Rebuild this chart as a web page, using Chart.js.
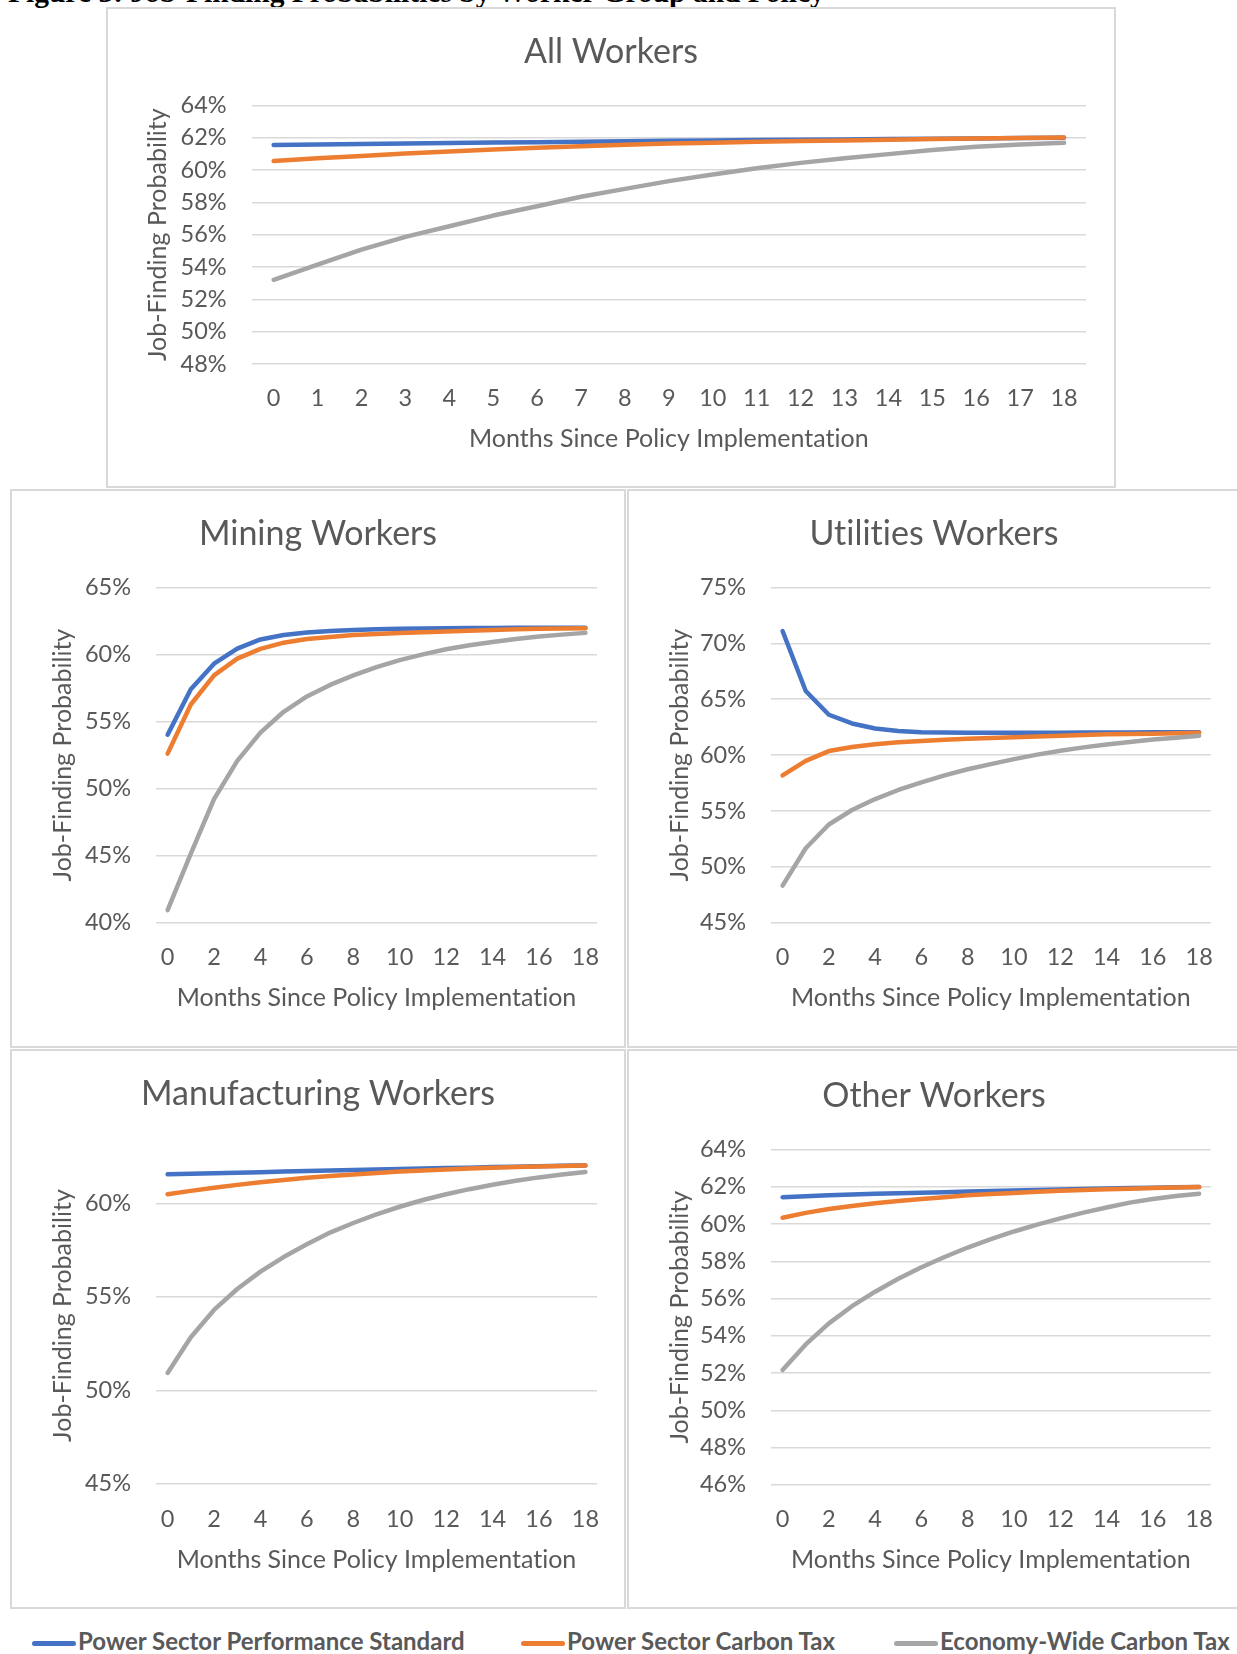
<!DOCTYPE html>
<html>
<head>
<meta charset="utf-8">
<script src="https://cdn.jsdelivr.net/npm/chart.js@4.4.1/dist/chart.umd.min.js"></script>
<style>
  html, body { margin: 0; padding: 0; background: #fff; }
  body { position: relative; width: 1237px; height: 1654px; overflow: hidden; font-family: Lato, "Open Sans", sans-serif; }
  .box { position: absolute; border: 2px solid #D9D9D9; box-sizing: border-box; }
  canvas { position: absolute; }
  #fig { position: absolute; left: 8px; top: -23px; font: bold 29.5px/30px "Liberation Serif", "Times New Roman", serif; color: #000; white-space: nowrap; }
  .lg { position: absolute; top: 1626px; height: 30px; white-space: nowrap; font: bold 24px/30px Lato, sans-serif; color: #595959; }
  .lg i { position: absolute; left: 0; top: 15px; width: 44px; height: 5px; border-radius: 2.5px; }
  .lg span { position: absolute; left: 46px; top: 0; }
</style>
</head>
<body>
<div id="fig">Figure 3: Job-Finding Probabilities by Worker Group and Policy</div>

<div class="box" style="left:106px;top:7px;width:1010px;height:481px"></div>
<div class="box" style="left:10px;top:489px;width:616px;height:559px"></div>
<div class="box" style="left:627px;top:489px;width:614px;height:559px"></div>
<div class="box" style="left:10px;top:1049px;width:616px;height:560px"></div>
<div class="box" style="left:627px;top:1049px;width:614px;height:560px"></div>

<canvas id="cAll"></canvas>
<canvas id="cMining"></canvas>
<canvas id="cUtilities"></canvas>
<canvas id="cManufacturing"></canvas>
<canvas id="cOther"></canvas>

<div class="lg" style="left:32px"><i style="background:#4472C4"></i><span id="lg0"></span></div>
<div class="lg" style="left:521px"><i style="background:#ED7D31"></i><span id="lg1"></span></div>
<div class="lg" style="left:894px"><i style="background:#A5A5A5"></i><span id="lg2"></span></div>

<script>
// Months since the policy takes effect
const months = ['0','1','2','3','4','5','6','7','8','9','10','11','12','13','14','15','16','17','18'];

// Policy names
const policies = ['Power Sector Performance Standard', 'Power Sector Carbon Tax', 'Economy-Wide Carbon Tax'];

// Job-finding probability (%) — all workers
const allPSPS = [61.55, 61.58, 61.61, 61.64, 61.67, 61.70, 61.72, 61.75, 61.78, 61.80, 61.83, 61.85, 61.87, 61.89, 61.91, 61.93, 61.95, 61.97, 62.00];
const allPSCT = [60.55, 60.72, 60.87, 61.02, 61.15, 61.26, 61.37, 61.47, 61.56, 61.63, 61.69, 61.74, 61.79, 61.83, 61.87, 61.91, 61.95, 61.98, 62.01];
const allEWCT = [53.21, 54.14, 55.07, 55.86, 56.52, 57.18, 57.76, 58.34, 58.83, 59.31, 59.72, 60.11, 60.44, 60.73, 60.98, 61.23, 61.44, 61.58, 61.68];

// Mining workers
const minPSPS = [54.02, 57.41, 59.31, 60.44, 61.12, 61.45, 61.64, 61.75, 61.83, 61.88, 61.91, 61.94, 61.96, 61.97, 61.98, 61.99, 62.00, 62.00, 62.00];
const minPSCT = [52.61, 56.27, 58.44, 59.69, 60.42, 60.88, 61.15, 61.31, 61.45, 61.53, 61.61, 61.66, 61.72, 61.77, 61.83, 61.88, 61.91, 61.94, 61.96];
const minEWCT = [40.95, 45.15, 49.22, 52.07, 54.18, 55.73, 56.87, 57.73, 58.44, 59.06, 59.58, 60.01, 60.39, 60.69, 60.93, 61.15, 61.34, 61.48, 61.61];

// Utilities workers
const utlPSPS = [71.10, 65.73, 63.61, 62.83, 62.38, 62.15, 62.05, 62.02, 61.99, 61.99, 62.00, 62.00, 62.01, 62.02, 62.02, 62.03, 62.04, 62.04, 62.05];
const utlPSCT = [58.18, 59.48, 60.36, 60.72, 60.98, 61.14, 61.27, 61.37, 61.47, 61.53, 61.60, 61.66, 61.73, 61.79, 61.86, 61.89, 61.92, 61.95, 61.99];
const utlEWCT = [48.32, 51.67, 53.79, 55.09, 56.07, 56.88, 57.56, 58.18, 58.73, 59.19, 59.64, 60.04, 60.39, 60.69, 60.95, 61.17, 61.40, 61.56, 61.73];

// Manufacturing workers
const mfgPSPS = [61.56, 61.58, 61.61, 61.64, 61.67, 61.70, 61.73, 61.76, 61.78, 61.81, 61.84, 61.86, 61.89, 61.91, 61.94, 61.96, 61.99, 62.01, 62.03];
const mfgPSCT = [60.49, 60.67, 60.84, 60.99, 61.13, 61.25, 61.37, 61.46, 61.54, 61.62, 61.70, 61.76, 61.81, 61.86, 61.91, 61.94, 61.97, 62.00, 62.03];
const mfgEWCT = [50.93, 52.84, 54.30, 55.42, 56.35, 57.13, 57.81, 58.44, 58.95, 59.41, 59.82, 60.18, 60.49, 60.76, 61.00, 61.21, 61.39, 61.54, 61.68];

// Other workers
const othPSPS = [61.44, 61.49, 61.54, 61.58, 61.62, 61.65, 61.68, 61.71, 61.74, 61.77, 61.80, 61.83, 61.86, 61.88, 61.91, 61.93, 61.95, 61.97, 61.99];
const othPSCT = [60.34, 60.60, 60.81, 60.97, 61.11, 61.23, 61.34, 61.44, 61.54, 61.61, 61.67, 61.73, 61.79, 61.83, 61.87, 61.90, 61.93, 61.96, 61.99];
const othEWCT = [52.17, 53.54, 54.67, 55.59, 56.37, 57.06, 57.68, 58.23, 58.74, 59.19, 59.60, 59.97, 60.30, 60.61, 60.89, 61.15, 61.34, 61.50, 61.63];

const COLORS = ['#4472C4', '#ED7D31', '#A5A5A5'];
const TEXT = '#595959';
const GRID = '#D9D9D9';
const FONT = 'Lato, "Open Sans", sans-serif';
const LH = 1.2;

policies.forEach((p, i) => { document.getElementById('lg' + i).textContent = p; });

// Plain glyphs (no "ti"/"fi" ligatures) for all canvas text
const plainText = {
  id: 'plainText',
  beforeDraw(chart) { chart.ctx.textRendering = 'optimizeSpeed'; }
};

// g: panel box and plot-area placement in page pixels
function panel(id, g, title, yMin, yMax, yStep, xEvery, series) {
  const c = document.getElementById(id);
  c.width = g.w; c.height = g.h;
  c.style.left = g.x + 'px'; c.style.top = g.y + 'px';

  const titleSize = 34, tickSize = 23.5, axisSize = 25;
  const tLh = titleSize * LH, kLh = tickSize * LH, aLh = axisSize * LH;
  const side = g.x + g.w - g.R;
  const titlePadTop = g.titleY - g.y - tLh / 2;
  const titlePadBottom = g.T - g.y - titlePadTop - tLh;
  const yW = g.L - g.x - side;
  const xH = g.y + g.h - g.B;
  const yTitlePad = g.yTitleX - g.x - side - aLh / 2;
  const xTickPad = g.xTickY - g.B - kLh / 2;
  const xTitlePad = g.y + g.h - g.xTitleY - aLh / 2;

  const datasets = series.map((d, i) => ({
    label: policies[i],
    data: d,
    borderColor: COLORS[i],
    backgroundColor: COLORS[i],
    borderWidth: 4.5,
    pointRadius: 0,
    tension: 0,
    borderCapStyle: 'round',
    borderJoinStyle: 'round',
    order: 3 - i
  }));

  new Chart(c, {
    type: 'line',
    data: { labels: months, datasets },
    plugins: [plainText],
    options: {
      responsive: false,
      animation: false,
      devicePixelRatio: 1,
      layout: { padding: { left: side, right: side, top: 0, bottom: 0 } },
      plugins: {
        legend: { display: false },
        tooltip: { enabled: false },
        title: {
          display: true, text: title, color: TEXT,
          font: { family: FONT, size: titleSize, weight: 'normal', lineHeight: LH },
          padding: { top: titlePadTop, bottom: titlePadBottom }
        }
      },
      scales: {
        x: {
          type: 'category',
          offset: true,
          grid: { display: false, drawTicks: false },
          border: { display: false },
          ticks: {
            color: TEXT, autoSkip: false, maxRotation: 0, padding: xTickPad,
            font: { family: FONT, size: tickSize, lineHeight: LH },
            callback: (v, i) => (i % xEvery === 0 ? months[i] : '')
          },
          title: {
            display: true, text: 'Months Since Policy Implementation', color: TEXT,
            font: { family: FONT, size: axisSize, lineHeight: LH },
            padding: { top: 0, bottom: xTitlePad }
          },
          afterFit: s => { s.height = xH; }
        },
        y: {
          min: yMin, max: yMax,
          grid: { color: GRID, lineWidth: 1.5, drawTicks: false },
          border: { display: false },
          ticks: {
            stepSize: yStep, color: TEXT, padding: 25,
            font: { family: FONT, size: tickSize, lineHeight: LH },
            callback: v => Math.round(v) + '%'
          },
          afterBuildTicks: s => {
            s.ticks = s.ticks.filter(t => {
              const k = (t.value - yMin) / yStep;
              return Math.abs(k - Math.round(k)) < 1e-6;
            });
          },
          title: {
            display: true, text: 'Job-Finding Probability', color: TEXT,
            font: { family: FONT, size: axisSize, lineHeight: LH },
            padding: { top: yTitlePad, bottom: 0 }
          },
          afterFit: s => { s.width = yW; }
        }
      }
    }
  });
}

panel('cAll',
  { x: 106, y: 7, w: 1010, h: 481, L: 251.7, T: 105.3, R: 1086, B: 364, titleY: 51.7, yTitleX: 158, xTickY: 398.6, xTitleY: 438.7 },
  'All Workers', 48, 64, 2, 1, [allPSPS, allPSCT, allEWCT]);

panel('cMining',
  { x: 10, y: 489, w: 616, h: 559, L: 156, T: 587.4, R: 597, B: 922.8, titleY: 533.6, yTitleX: 63, xTickY: 957.6, xTitleY: 997.7 },
  'Mining Workers', 40, 65, 5, 2, [minPSPS, minPSCT, minEWCT]);

panel('cUtilities',
  { x: 627, y: 489, w: 614, h: 559, L: 771, T: 587.4, R: 1210.7, B: 922.8, titleY: 533.6, yTitleX: 680, xTickY: 957.6, xTitleY: 997.7 },
  'Utilities Workers', 45, 75, 5, 2, [utlPSPS, utlPSCT, utlEWCT]);

panel('cManufacturing',
  { x: 10, y: 1049, w: 616, h: 560, L: 156, T: 1147.3, R: 597, B: 1483.8, titleY: 1093.6, yTitleX: 63, xTickY: 1519.7, xTitleY: 1559.7 },
  'Manufacturing Workers', 45, 63, 5, 2, [mfgPSPS, mfgPSCT, mfgEWCT]);

panel('cOther',
  { x: 627, y: 1049, w: 614, h: 560, L: 771, T: 1149.5, R: 1210.7, B: 1484.9, titleY: 1095.7, yTitleX: 680, xTickY: 1519.7, xTitleY: 1559.7 },
  'Other Workers', 46, 64, 2, 2, [othPSPS, othPSCT, othEWCT]);
</script>
</body>
</html>
